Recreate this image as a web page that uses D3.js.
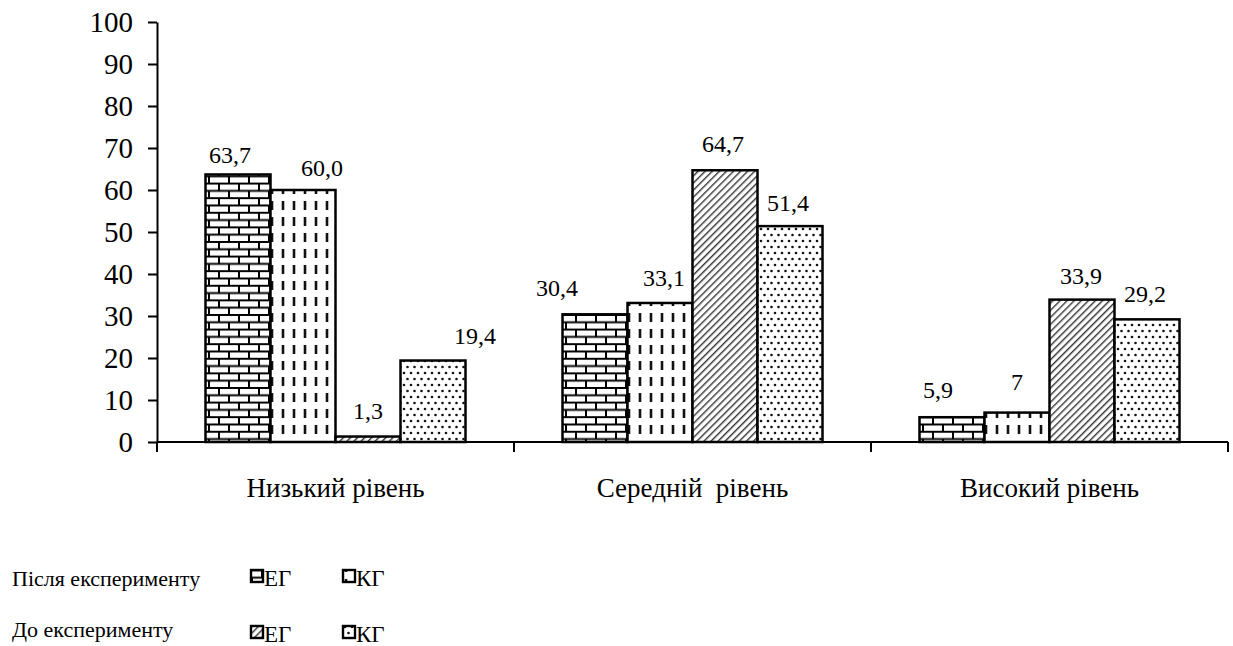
<!DOCTYPE html>
<html>
<head>
<meta charset="utf-8">
<script src="https://cdn.jsdelivr.net/npm/d3@7"></script>
<style>
  body { margin: 0; background: #fff; }
</style>
</head>
<body>
<div id="chart"></div>
<script>
// data
var categories = ["Низький рівень", "Середній  рівень", "Високий рівень"];
var seriesKeys = ["afterEG", "afterKG", "beforeEG", "beforeKG"];
var afterEG = [63.7, 30.4, 5.9];
var afterKG = [60.0, 33.1, 7.0];
var beforeEG = [1.3, 64.7, 33.9];
var beforeKG = [19.4, 51.4, 29.2];
var afterEGLabels = ["63,7", "30,4", "5,9"];
var afterKGLabels = ["60,0", "33,1", "7"];
var beforeEGLabels = ["1,3", "64,7", "33,9"];
var beforeKGLabels = ["19,4", "51,4", "29,2"];
var yTicks = [0, 10, 20, 30, 40, 50, 60, 70, 80, 90, 100];
var legendRows = ["Після експерименту", "До експерименту"];
var legendNames = ["ЕГ", "КГ"];

// label nudges (label centre relative to bar centre / bar top), per category x series
var labelDx = [[-8, 19, 0, 42], [-38, 4, -2, -2], [-14, 0, -1, -2]];
var labelDy = [[-20, -22, -26, -25], [-27, -25, -27, -24], [-28, -31, -24, -26]];

var values = { afterEG: afterEG, afterKG: afterKG, beforeEG: beforeEG, beforeKG: beforeKG };
var labels = { afterEG: afterEGLabels, afterKG: afterKGLabels, beforeEG: beforeEGLabels, beforeKG: beforeKGLabels };

var FONT = "Liberation Serif";

var margin = { top: 22, left: 157 },
  width = 1071,
  height = 420;

var svg = d3.select("#chart").append("svg")
  .attr("width", 1233)
  .attr("height", 646);

// patterns
var defs = svg.append("defs");

var brick = defs.append("pattern").attr("id", "p-afterEG")
  .attr("patternUnits", "userSpaceOnUse").attr("width", 20).attr("height", 14.6);
brick.append("rect").attr("width", 20).attr("height", 14.6).attr("fill", "#fff");
brick.append("path")
  .attr("d", "M0,0.9H20M0,8.2H20M2,0V8.2M12,8.2V14.6")
  .attr("stroke", "#000").attr("stroke-width", 2).attr("fill", "none");

var dash = defs.append("pattern").attr("id", "p-afterKG")
  .attr("patternUnits", "userSpaceOnUse").attr("width", 11).attr("height", 16);
dash.append("rect").attr("width", 11).attr("height", 16).attr("fill", "#fff");
dash.append("path")
  .attr("d", "M5,3V12")
  .attr("stroke", "#111").attr("stroke-width", 2.6).attr("fill", "none");

var hatch = defs.append("pattern").attr("id", "p-beforeEG")
  .attr("patternUnits", "userSpaceOnUse").attr("width", 5).attr("height", 5)
  .attr("patternTransform", "rotate(45)");
hatch.append("rect").attr("width", 5).attr("height", 5).attr("fill", "#fff");
hatch.append("line")
  .attr("x1", 0).attr("y1", 0).attr("x2", 0).attr("y2", 5)
  .attr("stroke", "#333").attr("stroke-width", 2.8);

var dots = defs.append("pattern").attr("id", "p-beforeKG")
  .attr("patternUnits", "userSpaceOnUse").attr("width", 7).attr("height", 12);
dots.append("rect").attr("width", 7).attr("height", 12).attr("fill", "#fff");
dots.append("circle").attr("cx", 2).attr("cy", 3).attr("r", 1.3).attr("fill", "#111");
dots.append("circle").attr("cx", 5.5).attr("cy", 9).attr("r", 1.3).attr("fill", "#111");

var g = svg.append("g")
  .attr("transform", "translate(" + margin.left + "," + margin.top + ")");

var x0 = d3.scaleBand()
  .domain(categories)
  .range([0, width]);

var groupWidth = 260;
var x1 = d3.scaleBand()
  .domain(seriesKeys)
  .range([(x0.bandwidth() - groupWidth) / 2, (x0.bandwidth() + groupWidth) / 2]);

var y = d3.scaleLinear()
  .domain([0, 100])
  .range([height, 0]);

// y axis
var yAxis = d3.axisLeft(y)
  .tickValues(yTicks)
  .tickSize(9)
  .tickSizeOuter(0)
  .tickPadding(15)
  .tickFormat(d3.format("d"));

var yg = g.append("g").attr("class", "y axis").call(yAxis);
yg.select(".domain").attr("stroke-width", 2);
yg.selectAll(".tick line").attr("stroke-width", 2);
yg.selectAll("text")
  .attr("fill", "#000")
  .style("font-family", FONT)
  .style("font-size", "29px");

// bars
var rows = categories.map(function (c, i) {
  return seriesKeys.map(function (k, j) {
    return { cat: c, key: k, ci: i, si: j, value: values[k][i], label: labels[k][i] };
  });
});

var groups = g.selectAll(".group")
  .data(rows)
  .enter().append("g")
  .attr("class", "group")
  .attr("transform", function (d, i) { return "translate(" + x0(categories[i]) + ",0)"; });

groups.selectAll("rect")
  .data(function (d) { return d; })
  .enter().append("rect")
  .attr("x", function (d) { return x1(d.key); })
  .attr("width", x1.bandwidth())
  .attr("y", function (d) { return y(d.value); })
  .attr("height", function (d) { return height - y(d.value); })
  .attr("fill", function (d) { return "url(#p-" + d.key + ")"; })
  .attr("stroke", "#000")
  .attr("stroke-width", 2.5);

groups.selectAll(".vlabel")
  .data(function (d) { return d; })
  .enter().append("text")
  .attr("class", "vlabel")
  .attr("x", function (d) { return x1(d.key) + x1.bandwidth() / 2 + labelDx[d.ci][d.si]; })
  .attr("y", function (d) { return y(d.value) + labelDy[d.ci][d.si]; })
  .attr("dy", "0.35em")
  .attr("text-anchor", "middle")
  .style("font-family", FONT)
  .style("font-size", "24px")
  .text(function (d) { return d.label; });

// x axis
var bounds = categories.map(function (c) { return x0(c); }).concat([width]);
var xg = g.append("g").attr("class", "x axis").attr("transform", "translate(0," + height + ")");
xg.append("line")
  .attr("x1", 0).attr("x2", width)
  .attr("stroke", "#000").attr("stroke-width", 2);
xg.selectAll(".xtick")
  .data(bounds)
  .enter().append("line")
  .attr("class", "xtick")
  .attr("x1", function (d) { return d; }).attr("x2", function (d) { return d; })
  .attr("y1", 0).attr("y2", 10)
  .attr("stroke", "#000").attr("stroke-width", 2);
xg.selectAll(".xlabel")
  .data(categories)
  .enter().append("text")
  .attr("class", "xlabel")
  .attr("x", function (d) { return x0(d) + x0.bandwidth() / 2; })
  .attr("y", 55)
  .attr("text-anchor", "middle")
  .style("font-family", FONT)
  .style("font-size", "27px")
  .style("white-space", "pre")
  .text(function (d) { return d; });

// legend
var legendBase = [586, 637];   // baseline of row caption
var keyShift = [0, 5];         // keys in the second row sit slightly lower
var legend = svg.append("g").attr("class", "legend");
legendRows.forEach(function (rowName, r) {
  legend.append("text")
    .attr("x", 12)
    .attr("y", legendBase[r])
    .style("font-family", FONT)
    .style("font-size", "22px")
    .text(rowName);
  legendNames.forEach(function (nm, k) {
    var key = seriesKeys[r * 2 + k];
    var lx = 251 + k * 92;
    var by = legendBase[r] + keyShift[r];
    legend.append("rect")
      .attr("x", lx).attr("y", by - 16)
      .attr("width", 12).attr("height", 12)
      .attr("fill", "url(#p-" + key + ")")
      .attr("stroke", "#000").attr("stroke-width", 2.4);
    legend.append("text")
      .attr("x", lx + 13)
      .attr("y", by)
      .style("font-family", FONT)
      .style("font-size", "23px")
      .text(nm);
  });
});
</script>
</body>
</html>
